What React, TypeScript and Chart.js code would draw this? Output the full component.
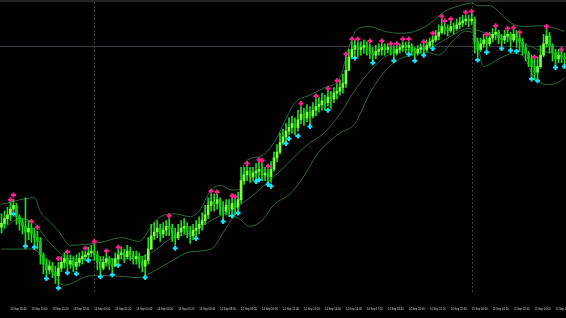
import React, { useEffect, useRef } from 'react';
import { Chart, registerables } from 'chart.js';

Chart.register(...registerables);

// ---- data ----
const firstOpen = 70;

const closes = [
  74, 79, 83, 89, 93, 81, 75, 71, 65, 69,
  63, 59, 55, 41, 31, 25, 29, 23, 19, 27,
  33, 37, 31, 35, 29, 33, 37, 39, 41, 43,
  45, 41, 33, 27, 33, 37, 31, 29, 37, 41,
  43, 39, 45, 41, 37, 39, 33, 29, 35, 47,
  61, 65, 69, 63, 67, 71, 69, 63, 59, 65,
  69, 71, 65, 61, 67, 69, 73, 77, 83, 93,
  97, 95, 99, 91, 87, 93, 89, 95, 91, 99,
  119, 125, 129, 123, 127, 129, 131, 125, 127, 123,
  131, 143, 149, 159, 165, 171, 175, 179, 175, 183,
  189, 185, 191, 187, 193, 197, 199, 203, 201, 207,
  205, 211, 213, 217, 221, 235, 249, 257, 261, 257,
  259, 261, 259, 253, 251, 255, 257, 259, 257, 259,
  257, 253, 257, 259, 261, 259, 261, 255, 253, 257,
  259, 257, 261, 265, 267, 271, 275, 281, 279, 277,
  281, 279, 283, 285, 287, 289, 287, 289, 265, 257,
  263, 267, 263, 269, 273, 275, 269, 267, 271, 273,
  267, 273, 269, 265, 259, 253, 247, 239, 233, 239,
  251, 263, 271, 261, 253, 247, 251, 249, 247,
];

const highs = [
  84, 87, 91, 97, 99, 95, 83, 79, 101, 77,
  73, 69, 66, 59, 43, 37, 35, 33, 29, 33,
  39, 43, 41, 41, 39, 41, 43, 45, 45, 49,
  51, 53, 45, 39, 39, 43, 39, 37, 43, 47,
  49, 47, 51, 49, 45, 45, 43, 39, 41, 59,
  73, 75, 77, 73, 75, 77, 79, 73, 69, 73,
  77, 79, 75, 71, 73, 77, 81, 85, 93, 101,
  105, 105, 105, 101, 97, 99, 99, 101, 99, 107,
  133, 133, 135, 133, 133, 137, 139, 137, 133, 131,
  139, 149, 157, 169, 173, 179, 185, 187, 185, 193,
  197, 195, 199, 197, 201, 205, 207, 211, 209, 213,
  213, 217, 221, 225, 231, 249, 257, 265, 267, 265,
  265, 267, 265, 263, 259, 261, 263, 265, 263, 263,
  261, 261, 261, 263, 265, 265, 265, 263, 259, 261,
  263, 263, 267, 269, 271, 277, 283, 289, 285, 283,
  287, 285, 289, 291, 293, 293, 293, 295, 291, 269,
  269, 273, 271, 275, 279, 281, 277, 273, 277, 277,
  275, 279, 277, 273, 269, 263, 255, 251, 247, 249,
  261, 273, 279, 275, 263, 257, 257, 255, 253,
];

const lows = [
  64, 69, 73, 77, 87, 73, 67, 63, 52, 57,
  54, 51, 47, 31, 21, 19, 21, 17, 11, 9,
  23, 27, 25, 27, 23, 25, 29, 31, 35, 37,
  39, 35, 25, 21, 25, 29, 25, 23, 29, 33,
  37, 33, 37, 35, 31, 31, 27, 23, 19, 31,
  47, 57, 59, 55, 59, 61, 61, 55, 51, 57,
  61, 63, 59, 53, 57, 61, 63, 67, 73, 79,
  87, 87, 89, 83, 79, 83, 81, 85, 83, 87,
  95, 115, 119, 117, 119, 121, 123, 119, 119, 117,
  117, 129, 139, 147, 157, 161, 167, 169, 167, 171,
  179, 177, 181, 179, 185, 187, 191, 193, 193, 197,
  195, 201, 205, 209, 211, 217, 237, 247, 251, 249,
  251, 253, 251, 247, 245, 247, 251, 251, 251, 253,
  251, 247, 251, 253, 255, 253, 255, 251, 247, 251,
  253, 253, 255, 259, 261, 265, 267, 273, 273, 271,
  275, 273, 277, 279, 281, 283, 281, 283, 253, 249,
  255, 259, 257, 261, 265, 267, 263, 261, 263, 265,
  259, 265, 259, 255, 251, 245, 239, 229, 225, 227,
  237, 249, 259, 253, 245, 241, 243, 243, 241,
];

// Bollinger-style envelope, [bar index, price]
const upperBand = [
  [0, 94], [8, 100], [11, 101], [13, 86], [16, 76], [19, 66], [23, 51], [33, 54],
  [40, 59], [46, 55], [50, 71], [53, 81], [58, 84], [63, 81], [66, 87], [70, 109],
  [73, 114], [77, 109], [80, 111], [81, 137], [86, 144], [91, 159], [95, 184], [98, 201],
  [103, 209], [108, 217], [113, 227], [116, 259], [119, 279], [123, 281], [128, 276],
  [133, 274], [138, 276], [143, 284], [148, 297], [153, 303], [157, 306], [159, 303],
  [163, 303], [166, 297], [170, 285], [175, 281], [180, 282], [185, 279], [188, 276],
];
const middleBand = [
  [0, 66], [6, 79], [11, 74], [16, 54], [23, 37], [33, 36], [43, 37], [50, 43],
  [56, 57], [63, 64], [70, 77], [76, 87], [83, 101], [87, 112], [93, 129], [103, 159],
  [107, 167], [113, 189], [118, 214], [123, 234], [128, 249], [133, 256], [143, 259],
  [149, 269], [156, 279], [163, 273], [170, 269], [176, 261], [183, 254], [188, 254],
];
const lowerBand = [
  [0, 47], [10, 47], [15, 34], [18, 17], [21, 9], [30, 19], [36, 19], [46, 17],
  [51, 24], [56, 33], [63, 44], [70, 47], [75, 69], [78, 81], [83, 71], [87, 77],
  [91, 94], [96, 104], [100, 119], [106, 149], [113, 169], [118, 179], [123, 211],
  [128, 234], [133, 247], [137, 251], [142, 254], [146, 251], [151, 267], [155, 276],
  [158, 273], [161, 239], [166, 247], [171, 253], [175, 247], [177, 232], [180, 222],
  [182, 220], [185, 221], [188, 227],
];

// signal arrows, [bar index, price]
const pinkMarks = [
  [3, 99], [4, 104], [10, 76], [12, 70], [19, 37], [22, 44], [28, 48], [31, 55],
  [35, 45], [39, 49], [56, 82], [70, 108], [72, 107], [77, 103], [78, 102], [82, 137],
  [86, 141], [87, 140], [89, 134], [100, 200], [105, 208], [109, 216], [112, 224],
  [115, 252], [117, 268], [119, 268], [123, 266], [127, 266], [130, 263], [132, 263],
  [134, 268], [136, 268], [141, 265], [144, 274], [147, 292], [148, 287], [150, 289],
  [155, 296], [157, 297], [162, 273], [165, 282], [169, 279], [171, 280], [173, 275],
  [178, 249], [182, 281], [187, 257],
];
const cyanMarks = [
  [4, 84], [8, 50], [11, 49], [15, 16], [19, 6], [22, 22], [25, 21], [29, 35],
  [33, 18], [37, 20], [39, 30], [48, 17], [58, 48], [65, 58], [74, 76], [77, 82],
  [79, 85], [85, 118], [86, 120], [89, 115], [90, 113], [95, 158], [96, 163], [99, 166],
  [103, 176], [109, 193], [118, 248], [124, 243], [131, 245], [136, 252], [138, 245],
  [141, 251], [144, 258], [159, 246], [162, 254], [167, 258], [170, 256], [172, 255],
  [177, 226], [179, 224], [185, 238], [188, 239],
];

const tickIndex = [
  3, 10, 17, 24, 31, 38, 45, 52, 59, 66, 73, 80, 87, 94, 101, 108, 115, 122, 129,
  136, 143, 150, 157, 164, 171, 178, 185,
];
const tickLabels = [
  '13 Sep 18:40', '13 Sep 20:00', '13 Sep 21:20', '13 Sep 22:40', '14 Sep 00:00',
  '14 Sep 01:20', '14 Sep 02:40', '14 Sep 04:00', '14 Sep 05:20', '14 Sep 06:40',
  '14 Sep 08:00', '14 Sep 09:20', '14 Sep 10:40', '14 Sep 12:00', '14 Sep 13:20',
  '14 Sep 14:40', '14 Sep 16:00', '14 Sep 17:20', '14 Sep 18:40', '14 Sep 20:00',
  '14 Sep 21:20', '14 Sep 22:40', '15 Sep 00:00', '15 Sep 01:20', '15 Sep 02:40',
  '15 Sep 04:00', '15 Sep 05:20',
];

const separatorIdx = [31, 157];
const levelLine = 261;
const priceMin = 0;
const priceMax = 309;

export default function App() {
  const ref = useRef<HTMLCanvasElement>(null);

  useEffect(() => {
    document.body.style.margin = '0';
    document.body.style.background = '#000';
    const canvas = ref.current;
    if (!canvas) return;

    const opens = closes.map((c, i) => (i === 0 ? firstOpen : closes[i - 1]));
    const bodyColors = closes.map((c, i) => (c >= opens[i] ? '#7dff3f' : '#18c818'));
    const n = closes.length;
    const bandColor = '#276a3a';

    const bgPlugin = {
      id: 'mtBackground',
      beforeDraw(chart: any) {
        const { ctx, width, height } = chart;
        ctx.save();
        ctx.fillStyle = '#000000';
        ctx.fillRect(0, 0, width, height);
        ctx.restore();
      },
      beforeDatasetsDraw(chart: any) {
        const { ctx, chartArea, scales } = chart;
        ctx.save();
        ctx.fillStyle = '#262626';
        ctx.fillRect(0, 0, chart.width, 2);
        const yl = Math.round(scales.y.getPixelForValue(levelLine)) + 0.5;
        ctx.strokeStyle = '#3a3a44';
        ctx.lineWidth = 1;
        ctx.beginPath();
        ctx.moveTo(chartArea.left, yl);
        ctx.lineTo(chartArea.right, yl);
        ctx.stroke();
        ctx.strokeStyle = '#3a3a3a';
        ctx.setLineDash([2, 2]);
        separatorIdx.forEach((idx) => {
          const xp = Math.round(scales.x.getPixelForValue(idx)) + 0.5;
          ctx.beginPath();
          ctx.moveTo(xp, 2);
          ctx.lineTo(xp, chartArea.bottom);
          ctx.stroke();
        });
        ctx.restore();
      },
    };

    const lineDs = (label: string, pts: number[][]) => ({
      type: 'line' as const,
      label,
      data: pts.map(([x, y]) => ({ x, y })),
      borderColor: bandColor,
      borderWidth: 1,
      pointRadius: 0,
      tension: 0.4,
      cubicInterpolationMode: 'monotone' as const,
      order: 3,
    });

    const chart = new Chart(canvas, {
      type: 'bar',
      data: {
        datasets: [
          lineDs('Upper band', upperBand),
          lineDs('Middle band', middleBand),
          lineDs('Lower band', lowerBand),
          {
            type: 'bar',
            label: 'Range',
            data: lows.map((l, i) => ({ x: i, y: [l, highs[i]] })),
            backgroundColor: '#1fdc1f',
            barThickness: 1,
            grouped: false,
            order: 2,
          } as any,
          {
            type: 'bar',
            label: 'Body',
            data: closes.map((c, i) => ({ x: i, y: [opens[i], c] })),
            backgroundColor: bodyColors,
            barThickness: 2,
            minBarLength: 1,
            grouped: false,
            order: 1,
          } as any,
          {
            type: 'scatter',
            label: 'Sell arrows',
            data: pinkMarks.map(([x, y]) => ({ x, y })),
            pointStyle: 'cross',
            pointRadius: 2.5,
            pointBorderWidth: 2,
            borderColor: '#ff1f8f',
            backgroundColor: '#ff1f8f',
            clip: false,
            order: 0,
          } as any,
          {
            type: 'scatter',
            label: 'Buy arrows',
            data: cyanMarks.map(([x, y]) => ({ x, y })),
            pointStyle: 'cross',
            pointRadius: 2.5,
            pointBorderWidth: 2,
            borderColor: '#18e6ff',
            backgroundColor: '#18e6ff',
            clip: false,
            order: 0,
          } as any,
        ],
      },
      options: {
        responsive: false,
        animation: false,
        devicePixelRatio: 1,
        layout: { autoPadding: false, padding: { left: 0, right: 0, top: 0, bottom: 1 } },
        plugins: { legend: { display: false }, tooltip: { enabled: false } },
        scales: {
          x: {
            type: 'linear',
            min: -0.5,
            max: n - 0.5,
            offset: false,
            grid: { display: false },
            border: { display: false },
            afterBuildTicks: (scale: any) => {
              scale.ticks = tickIndex.map((v) => ({ value: v }));
            },
            afterFit: (scale: any) => {
              scale.paddingLeft = 0;
              scale.paddingRight = 0;
            },
            ticks: {
              autoSkip: false,
              maxRotation: 0,
              minRotation: 0,
              align: 'start',
              padding: 6,
              color: '#cfd3da',
              font: { size: 2.7, family: 'Liberation Sans' },
              callback: (_v: any, i: number) => tickLabels[i],
            },
          } as any,
          y: { display: false, min: priceMin, max: priceMax },
        },
      },
      plugins: [bgPlugin],
    });

    return () => chart.destroy();
  }, []);

  return (
    <div style={{ width: 566, height: 318, background: '#000' }}>
      <canvas ref={ref} width={566} height={318} style={{ display: 'block' }} />
    </div>
  );
}
